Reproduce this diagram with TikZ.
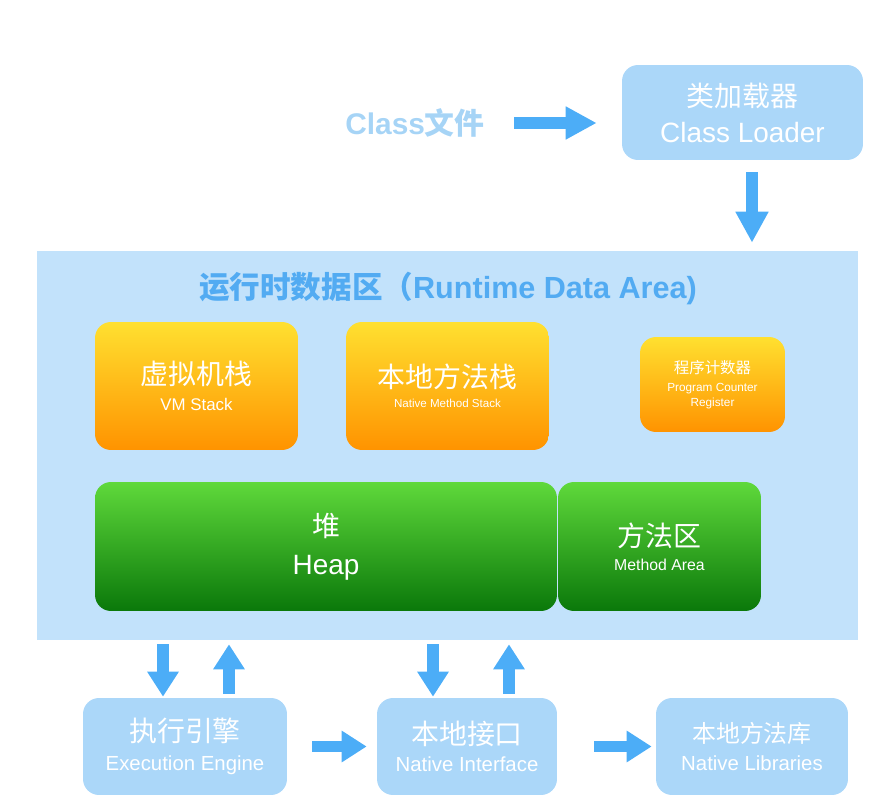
\documentclass[tikz,border=0pt]{standalone}
\usepackage{fontspec}
\setmainfont{Liberation Sans}
\newfontfamily\cjk{Noto Sans CJK SC}
\usetikzlibrary{arrows.meta}
\definecolor{boxblue}{HTML}{ABD7F9}
\definecolor{areablue}{HTML}{C2E2FB}
\definecolor{arrowblue}{HTML}{4CADF7}
\definecolor{paleblue}{HTML}{A6D4F6}
\definecolor{titleblue}{HTML}{52ABF2}
\definecolor{ylw}{HTML}{FFE030}
\definecolor{org}{HTML}{FF9300}
\definecolor{lgreen}{HTML}{5FD93B}
\definecolor{dgreen}{HTML}{0A780A}
\newcommand{\sz}[2]{\fontsize{#1}{#2}\selectfont}

\tikzset{
    bluebox/.style={rounded corners=0.32cm, fill=boxblue, text=white, align=center, inner sep=0pt},
    orangebox/.style={rounded corners=0.32cm, top color=ylw, bottom color=org, text=white, align=center, inner sep=0pt},
    greenbox/.style={rounded corners=0.32cm, top color=lgreen, bottom color=dgreen, text=white, align=center, inner sep=0pt},
    bigarrow/.style={draw=arrowblue, line width=0.23cm, -{Triangle[length=0.62cm, width=0.62cm]}},
    smallarrow/.style={draw=arrowblue, line width=0.23cm, -{Triangle[length=0.5cm, width=0.6cm]}}
}

\begin{document}
\begin{tikzpicture}[x=0.02cm, y=-0.02cm]
    \useasboundingbox (0,0) rectangle (885,803);
    % runtime data area
    \node[fill=areablue, minimum width=16.42cm, minimum height=7.78cm, inner sep=0pt] (rda) at (447.5,445.5) {};
    \node[text=titleblue, font=\sz{17.4pt}{20pt}\bfseries] (rdatitle) at (448,288) {{\cjk 运行时数据区（}Runtime Data Area)};

    \node[text=paleblue, font=\sz{17pt}{20pt}\bfseries, inner sep=0pt] (cls) at (415,123) {Class{\cjk 文件}};
    \node[bluebox, minimum width=4.82cm, minimum height=1.9cm, font=\sz{15.9pt}{20.4pt}] (loader) at (742.5,112.5) {{\cjk 类加载器}\\Class Loader};

    \node[orangebox, minimum width=4.06cm, minimum height=2.56cm, font=\sz{9.6pt}{14.7pt}] (vms) at (196.5,386) {{\sz{15.9pt}{14.7pt}\cjk 虚拟机栈}\\VM Stack};
    \node[orangebox, minimum width=4.06cm, minimum height=2.56cm, font=\sz{6.6pt}{11.3pt}] (nms) at (447.5,386) {{\sz{15.9pt}{11.3pt}\cjk 本地方法栈}\\Native Method Stack};
    \node[orangebox, minimum width=2.9cm, minimum height=1.9cm, font=\sz{6.7pt}{8.5pt}] (pcr) at (712.5,384.5) {{\sz{8.8pt}{8.5pt}\cjk 程序计数器}\\[1.7pt]Program Counter\\Register};

    \node[greenbox, minimum width=9.24cm, minimum height=2.58cm, font=\sz{15.9pt}{21.5pt}] (heap) at (326,546.5) {{\cjk 堆}\\Heap};
    \node[greenbox, minimum width=4.06cm, minimum height=2.58cm, font=\sz{9pt}{13.6pt}] (marea) at (659.5,546.5) {{\sz{15.9pt}{13.6pt}\cjk 方法区}\\Method Area};

    \node[bluebox, minimum width=4.08cm, minimum height=1.94cm, font=\sz{11.6pt}{16.3pt}] (engine) at (185,746.5) {{\sz{15.9pt}{16.3pt}\cjk 执行引擎}\\Execution Engine};
    \node[bluebox, minimum width=3.6cm, minimum height=1.94cm, font=\sz{11.6pt}{15.3pt}] (native) at (467,746.5) {{\sz{15.9pt}{15.3pt}\cjk 本地接口}\\Native Interface};
    \node[bluebox, minimum width=3.84cm, minimum height=1.94cm, font=\sz{11.6pt}{16pt}] (libs) at (752,746.5) {{\sz{13.6pt}{16pt}\cjk 本地方法库}\\Native Libraries};

    % arrows
    \draw[bigarrow, shorten <=0.58cm, shorten >=0.5cm] (cls.east) -- (cls.east -| loader.west);
    \draw[bigarrow, shorten <=0.24cm, shorten >=0.16cm] ([xshift=0.19cm]loader.south) -- ([xshift=0.19cm]loader.south |- rda.north);
    \draw[smallarrow, shorten <=0.08cm, shorten >=0.02cm] ([xshift=-0.44cm]engine.north |- rda.south) -- ([xshift=-0.44cm]engine.north);
    \draw[smallarrow, shorten <=0.08cm, shorten >=0.08cm] ([xshift=0.88cm]engine.north) -- ([xshift=0.88cm]engine.north |- rda.south);
    \draw[smallarrow, shorten <=0.08cm, shorten >=0.02cm] ([xshift=-0.68cm]native.north |- rda.south) -- ([xshift=-0.68cm]native.north);
    \draw[smallarrow, shorten <=0.08cm, shorten >=0.08cm] ([xshift=0.84cm]native.north) -- ([xshift=0.84cm]native.north |- rda.south);
    \draw[smallarrow, shorten <=0.5cm, shorten >=0.2cm] (engine) -- (native);
    \draw[smallarrow, shorten <=0.74cm, shorten >=0.08cm] (native) -- (libs);
\end{tikzpicture}
\end{document}
